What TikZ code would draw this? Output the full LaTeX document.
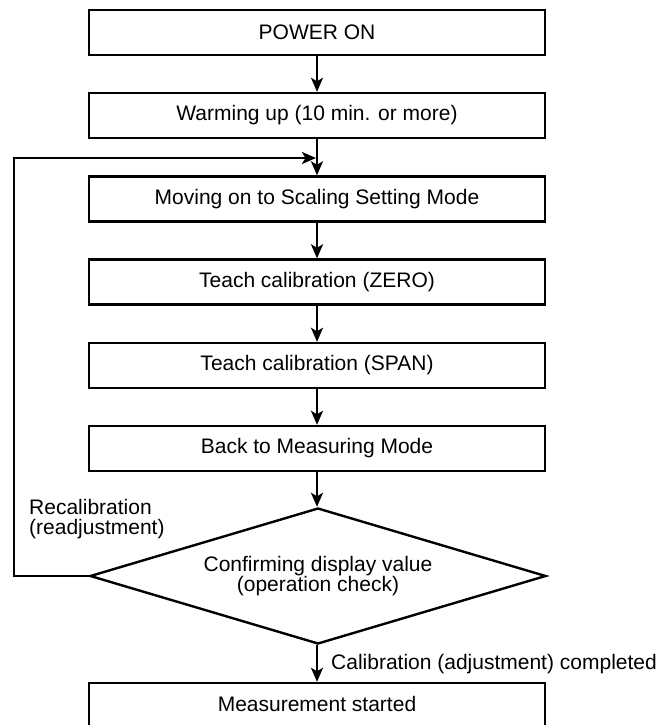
\documentclass[tikz,border=0pt]{standalone}
\usepackage{fontspec}
\setmainfont{Liberation Sans}
\usetikzlibrary{shapes.geometric,arrows.meta}
\begin{document}
\begin{tikzpicture}[x=1pt,y=-1pt,
  every node/.style={font=\fontsize{21pt}{20.5pt}\selectfont},
  stepbox/.style={draw, line width=2.4pt, minimum width=456pt, minimum height=45pt, inner sep=0pt},
  decide/.style={draw, line width=2.4pt, diamond, aspect=3.35, minimum width=456pt, minimum height=136pt, inner sep=0pt, align=center},
  arr/.style={line width=2.4pt, -{Stealth[length=14pt,width=12pt,inset=3.5pt]}},
  lbl/.style={align=left, inner sep=0pt}]
\useasboundingbox (0,0) rectangle (662,725);
\node[stepbox] (p1) at (317,32.5) {POWER ON};
\node[stepbox] (p2) at (317,115.5) {Warming up (10 min. or more)};
\node[stepbox] (p3) at (317,199) {Moving on to Scaling Setting Mode};
\node[stepbox] (p4) at (317,282) {Teach calibration (ZERO)};
\node[stepbox] (p5) at (317,365.5) {Teach calibration (SPAN)};
\node[stepbox] (p6) at (317,448.5) {Back to Measuring Mode};
\node[decide] (d) at (318,576) {Confirming display value\\(operation check)};
\node[stepbox] (p7) at (317,705.5) {};
\node (p7t) at (317,704) {Measurement started};
\coordinate (join) at (316,158);
\coordinate (fbT) at (14,158);
\node[lbl, anchor=west] (rl) at (29,519) {Recalibration\\(readjustment)};
\node[lbl, anchor=west] (cl) at (331,664) {Calibration (adjustment) completed};
\draw[arr] (p1.south) -- (p2.north);
\draw[arr] (p2.south) -- (p3.north);
\draw[arr] (p3.south) -- (p4.north);
\draw[arr] (p4.south) -- (p5.north);
\draw[arr] (p5.south) -- (p6.north);
\draw[arr] (p6.south) -- (d.north -| p6.south);
\draw[arr] (d.south -| p6.south) -- (p7.north);
\draw[arr] (d.west) -| (fbT) -- (join);
\end{tikzpicture}
\end{document}
